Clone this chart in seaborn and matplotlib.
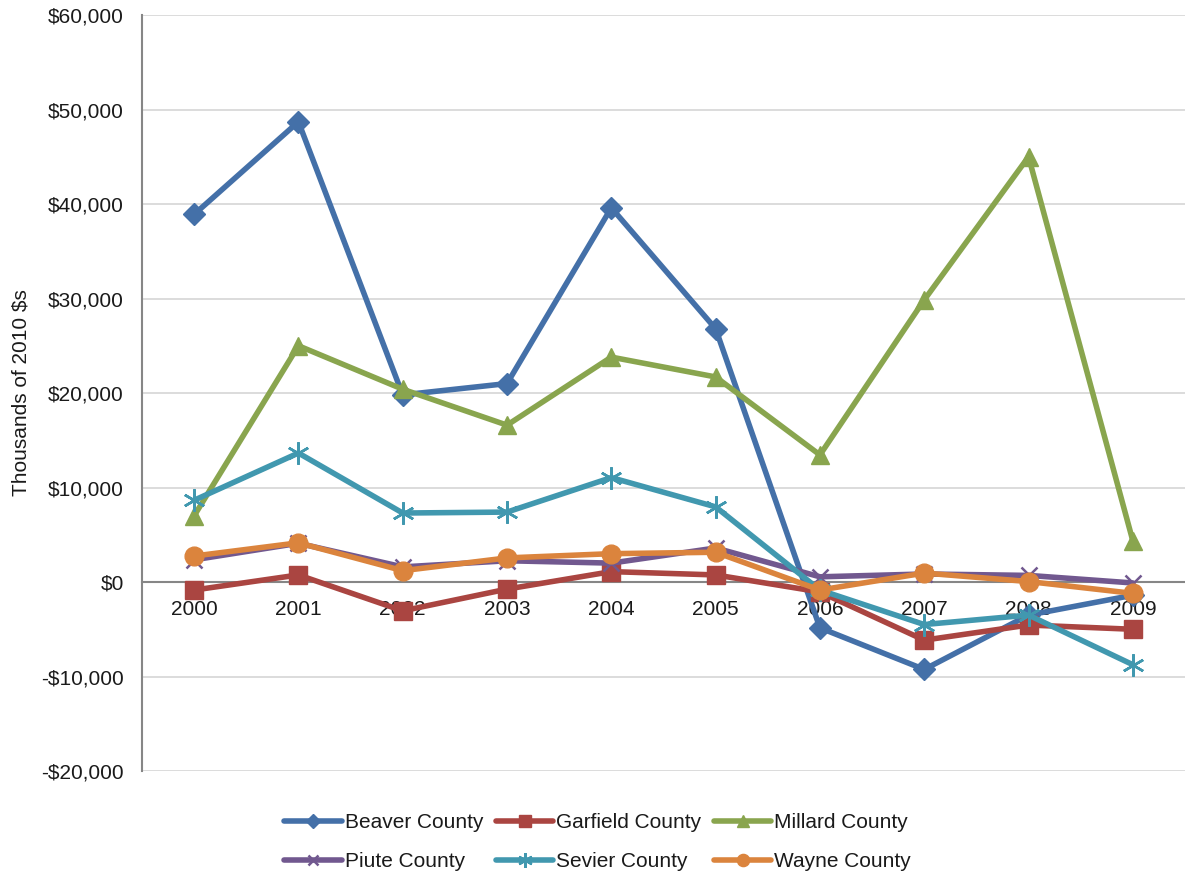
import matplotlib
matplotlib.use("Agg")
import matplotlib.pyplot as plt
import matplotlib.ticker as mticker
import seaborn as sns
import pandas as pd

years = ["2000", "2001", "2002", "2003", "2004", "2005", "2006", "2007", "2008", "2009"]
beaver = [38900, 48700, 19800, 21000, 39600, 26800, -4850, -9250, -3500, -1400]
garfield = [-850, 750, -3050, -750, 1100, 750, -1050, -6150, -4550, -5000]
millard = [7000, 25000, 20400, 16600, 23800, 21700, 13450, 29850, 45000, 4350]
piute = [2350, 4100, 1600, 2250, 2000, 3600, 550, 850, 700, -100]
sevier = [8650, 13650, 7300, 7400, 11050, 7950, -850, -4500, -3500, -8750]
wayne = [2750, 4150, 1200, 2550, 3000, 3150, -850, 950, 50, -1200]

counties = ["Beaver County", "Garfield County", "Millard County",
            "Piute County", "Sevier County", "Wayne County"]
series = [beaver, garfield, millard, piute, sevier, wayne]
colors = ["#4470a8", "#aa4541", "#89a54e", "#71588f", "#4198af", "#db843d"]
markers = ["D", "s", "^", "x", (6, 2, 0), "o"]
msizes = [11, 12.5, 13.5, 12, 16, 13.5]

frames = []
for name, vals in zip(counties, series):
    frames.append(pd.DataFrame({"pos": range(len(years)), "value": vals, "county": name}))
df = pd.concat(frames, ignore_index=True)

sns.set_style("white")
plt.rcParams["font.family"] = ["Liberation Sans", "DejaVu Sans"]

fig = plt.figure(figsize=(11.85, 8.72), dpi=100)
ax = fig.add_axes([0.1198, 0.1158, 0.8802, 0.867])

for name, col, mk, ms in zip(counties, colors, markers, msizes):
    sub = df[df["county"] == name]
    sns.lineplot(data=sub, x="pos", y="value", ax=ax, color=col, linewidth=4,
                 marker=mk, markersize=ms, markeredgecolor=col, markerfacecolor=col,
                 markeredgewidth=1.8 if mk in ("x", (6, 2, 0)) else 1.0,
                 label=name, zorder=3)

ax.set_ylim(-20000, 60000)
ax.set_xlim(-0.5, 9.43)
ax.yaxis.set_major_locator(mticker.MultipleLocator(10000))
ax.yaxis.set_major_formatter(mticker.FuncFormatter(
    lambda v, p: ("-$" if v < 0 else "$") + f"{abs(int(v)):,}"))
ax.grid(axis="y", color="#d9d9d9", linewidth=1.3)
ax.grid(axis="x", visible=False)

for s in ("top", "right"):
    ax.spines[s].set_visible(False)
ax.spines["left"].set_color("#868686")
ax.spines["left"].set_linewidth(1.5)
ax.spines["bottom"].set_position(("data", 0))
ax.spines["bottom"].set_color("#868686")
ax.spines["bottom"].set_linewidth(1.5)
ax.spines["bottom"].set_zorder(2)

fs = 15
ax.set_xticks(range(len(years)))
ax.set_xticklabels(years)
ax.set_xticks([i + 0.5 for i in range(-1, len(years))], minor=True)
ax.tick_params(axis="x", which="major", length=0, pad=13, labelsize=fs, labelcolor="#1a1a1a")
ax.tick_params(axis="x", which="minor", length=6, width=1.5, color="#868686", direction="out")
ax.tick_params(axis="y", length=8, width=1.5, color="#868686", direction="out",
               labelsize=fs, labelcolor="#1a1a1a", pad=5)
ax.set_xlabel("")
ax.set_ylabel("Thousands of 2010 $s", fontsize=fs, color="#1a1a1a", labelpad=8)

# row-major legend order across three columns
handles, labels = ax.get_legend_handles_labels()
order = [0, 3, 1, 4, 2, 5]
leg = ax.legend([handles[i] for i in order], [labels[i] for i in order],
                loc="upper center", bbox_to_anchor=(0.437, -0.031), ncol=3, frameon=False,
                fontsize=fs, handlelength=2.75, handletextpad=0.15, columnspacing=0.6,
                labelspacing=0.95, markerscale=0.65)
for t in leg.get_texts():
    t.set_color("#1a1a1a")

fig.savefig("out.png", dpi=100)
